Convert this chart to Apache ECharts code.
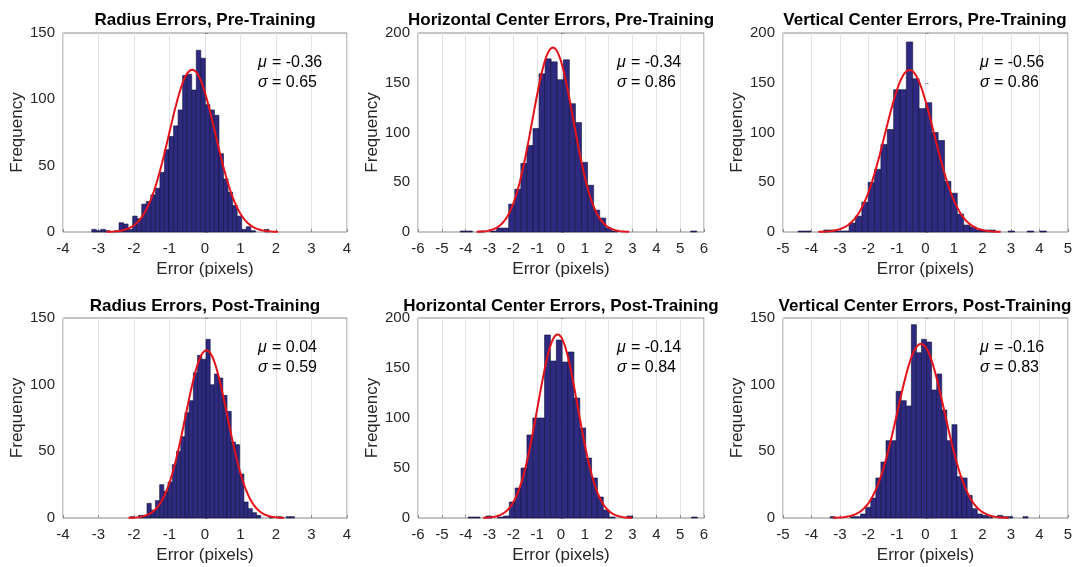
<!DOCTYPE html>
<html>
<head>
<meta charset="utf-8">
<title>Error histograms</title>
<script src="https://cdn.jsdelivr.net/npm/echarts@6/dist/echarts.min.js"></script>
<style>
  html, body { margin: 0; padding: 0; background: #fff; }
  #chart { width: 1080px; height: 567px; }
</style>
</head>
<body>
<div id="chart"></div>
<script>
// ---- data ----
const titles = [
  "Radius Errors, Pre-Training",
  "Horizontal Center Errors, Pre-Training",
  "Vertical Center Errors, Pre-Training",
  "Radius Errors, Post-Training",
  "Horizontal Center Errors, Post-Training",
  "Vertical Center Errors, Post-Training"
];
const fitMu = [-0.36, -0.34, -0.56, 0.04, -0.14, -0.16];
const fitSigma = [0.65, 0.86, 0.86, 0.59, 0.84, 0.83];
const xMin = [-4, -6, -5, -4, -6, -5];
const xMax = [4, 6, 5, 4, 6, 5];
const yMax = [150, 200, 200, 150, 200, 150];

// histogram bins: left edge of first bin and bin width, 39 bins each
const binStart = [-3.19, -4.23, -4.468, -2.109, -3.896, -3.345];
const binWidth = [0.128, 0.2545, 0.2233, 0.1187, 0.2466, 0.178];

const radiusPre = [2, 1, 2, 1, 0, 1, 7, 6, 2, 12, 10, 21, 23, 28, 33, 45, 62, 72, 80, 92,
  118, 119, 107, 137, 131, 96, 92, 88, 59, 40, 30, 20, 12, 2, 4, 1, 0, 0, 2];
const horizPre = [1, 1, 0, 1, 0, 1, 4, 4, 28, 43, 69, 87, 104, 159, 174, 171, 153, 173, 129, 110,
  70, 47, 22, 14, 4, 1, 0, 0, 0, 0, 0, 0, 0, 0, 0, 0, 0, 0, 1];
const vertPre = [1, 1, 0, 0, 2, 2, 1, 1, 9, 16, 30, 50, 63, 88, 103, 143, 143, 191, 154, 124,
  130, 100, 92, 51, 39, 18, 7, 5, 2, 2, 2, 0, 0, 1, 0, 0, 1, 0, 1];
const radiusPost = [1, 0, 2, 2, 11, 6, 13, 25, 20, 27, 40, 50, 61, 79, 88, 109, 122, 119, 134, 100,
  108, 105, 92, 80, 57, 55, 33, 12, 7, 4, 2, 0, 0, 1, 0, 1, 0, 1, 1];
const horizPost = [1, 1, 0, 2, 0, 1, 2, 16, 30, 50, 83, 100, 100, 183, 157, 178, 156, 166, 120, 90,
  60, 40, 21, 8, 1, 0, 0, 2, 0, 0, 0, 0, 0, 0, 0, 0, 0, 0, 1];
const vertPost = [1, 0, 0, 0, 1, 1, 3, 8, 15, 30, 42, 58, 58, 95, 88, 84, 145, 124, 134, 132,
  96, 108, 81, 58, 70, 31, 30, 17, 7, 3, 2, 1, 0, 2, 1, 1, 0, 0, 1];

const countsList = [radiusPre, horizPre, vertPre, radiusPost, horizPost, vertPost];

// ---- layout ----
const cols = [
  { left: 63, width: 284, mid: 205 },
  { left: 418, width: 286, mid: 561 },
  { left: 783, width: 285, mid: 925 }
];
const rows = [
  { top: 33, height: 199, titleY: 20 },
  { top: 318, height: 200, titleY: 306 }
];
const noteX = [258, 617, 980];

const font = "'Liberation Sans', Arial, Helvetica, sans-serif";
const frameColor = "#8a8a8a";
const textColor = "#262626";

const renderBar = (params, api) => {
  const c = api.value(2);
  if (!c) return null;
  const p0 = api.coord([api.value(0), 0]);
  const p1 = api.coord([api.value(1), c]);
  return {
    type: "rect",
    shape: { x: p0[0], y: p1[1], width: p1[0] - p0[0], height: p0[1] - p1[1] },
    style: { fill: "#2d2a80", stroke: "#12123a", lineWidth: 0.6 }
  };
};

const noteText = (x, y, str, italic) => ({
  type: "text", x: x, y: y, z: 10,
  style: {
    text: str, font: (italic ? "italic " : "") + "16px " + font, fill: "#000",
    textAlign: "left", textVerticalAlign: "middle"
  }
});

const grids = [], xAxes = [], yAxes = [], series = [], graphics = [];

countsList.forEach((counts, i) => {
  const col = cols[i % 3];
  const row = rows[Math.floor(i / 3)];

  grids.push({
    left: col.left, top: row.top, width: col.width, height: row.height,
    show: true, borderColor: frameColor, borderWidth: 1, backgroundColor: "#fff",
    containLabel: false, outerBoundsMode: "none"
  });

  xAxes.push({
    gridIndex: i, type: "value", min: xMin[i], max: xMax[i], interval: 1,
    name: "Error (pixels)", nameLocation: "middle", nameGap: 29,
    nameTextStyle: { fontFamily: font, fontSize: 17, color: textColor },
    axisLine: { show: false },
    axisTick: { show: true, inside: true, length: 3, lineStyle: { color: frameColor } },
    axisLabel: { fontFamily: font, fontSize: 15, color: textColor, margin: 9 },
    splitLine: { show: true, lineStyle: { color: "#e3e3e3", width: 1 } }
  });

  yAxes.push({
    gridIndex: i, type: "value", min: 0, max: yMax[i], interval: 50,
    name: "Frequency", nameLocation: "middle", nameGap: 37,
    nameTextStyle: { fontFamily: font, fontSize: 17, color: textColor },
    axisLine: { show: false },
    axisTick: { show: true, inside: true, length: 3, lineStyle: { color: frameColor } },
    axisLabel: { fontFamily: font, fontSize: 15, color: textColor, margin: 8 },
    splitLine: { show: false }
  });

  const bins = counts.map((c, k) => [
    binStart[i] + k * binWidth[i],
    binStart[i] + (k + 1) * binWidth[i],
    c
  ]);
  series.push({
    type: "custom", xAxisIndex: i, yAxisIndex: i,
    renderItem: renderBar, data: bins, encode: { x: [0, 1], y: 2 }, z: 2
  });

  // normal fit from the mu / sigma printed on the panel, scaled like histfit
  const total = counts.reduce((a, b) => a + b, 0);
  const mu = fitMu[i], sd = fitSigma[i];
  const scale = total * binWidth[i] / (sd * Math.sqrt(2 * Math.PI));
  const lo = mu - 3.72 * sd, hi = mu + 3.72 * sd;
  const fit = [];
  for (let s = 0; s <= 200; s++) {
    const x = lo + (hi - lo) * s / 200;
    fit.push([x, scale * Math.exp(-0.5 * ((x - mu) / sd) ** 2)]);
  }
  series.push({
    type: "line", xAxisIndex: i, yAxisIndex: i, data: fit,
    showSymbol: false, smooth: false, z: 3,
    lineStyle: { color: "#e6121a", width: 2 }
  });

  graphics.push({
    type: "text", x: col.mid, y: row.titleY, z: 10,
    style: {
      text: titles[i], font: "bold 17px " + font, fill: "#000",
      textAlign: "center", textVerticalAlign: "middle"
    }
  });
  const nx = noteX[i % 3];
  const ny = row.top + 30;
  const sign = mu < 0 ? "-" : "";
  graphics.push(noteText(nx, ny, "\u03bc", true));
  graphics.push(noteText(nx + 14, ny, "= " + sign + Math.abs(mu).toFixed(2), false));
  graphics.push(noteText(nx, ny + 20, "\u03c3", true));
  graphics.push(noteText(nx + 14, ny + 20, "= " + sd.toFixed(2), false));
});

const chart = echarts.init(document.getElementById("chart"));
chart.setOption({
  animation: false,
  backgroundColor: "#fff",
  grid: grids,
  xAxis: xAxes,
  yAxis: yAxes,
  series: series,
  graphic: graphics
});
</script>
</body>
</html>
